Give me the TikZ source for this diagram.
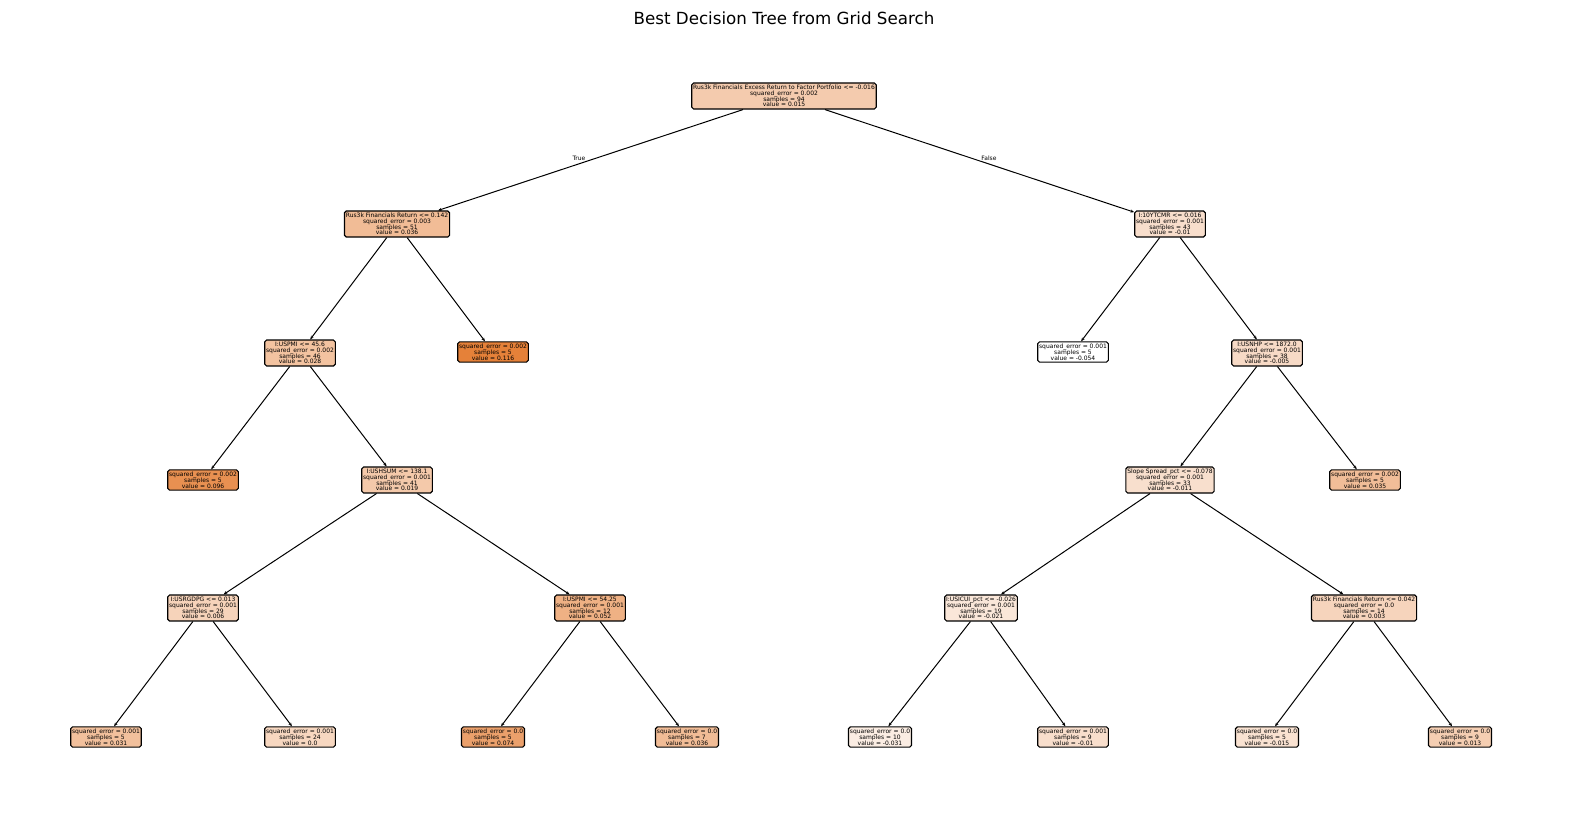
\documentclass[tikz,border=0pt]{standalone}
\usepackage{fontspec}
\setmainfont{DejaVu Sans}
\usetikzlibrary{arrows.meta}
\definecolor{treeorange}{RGB}{229,129,57}
\setlength{\lineskiplimit}{-5pt}

\begin{document}
\begin{tikzpicture}[x=1pt, y=-1pt,
  every node/.style={font=\fontsize{6}{5.8}\selectfont, align=center},
  split/.style={draw, line width=1.1pt, rounded corners=1.8pt, inner xsep=1.4pt, inner ysep=2pt, fill=treeorange!#1},
  edge/.style={-{Stealth[length=3.8pt, width=3pt]}, line width=1pt}]
\useasboundingbox (0,0) rectangle (1570,812);

\node[font=\fontsize{16.7}{19}\selectfont] (title) at (784,18) {Best Decision Tree from Grid Search};

\node[split=41] (root) at (784,96) {Rus3k Financials Excess Return to Factor Portfolio <= -0.016\\squared\_error = 0.002\\samples = 94\\value = 0.015};

\node[split=53] (a) at (397,224) {Rus3k Financials Return <= 0.142\\squared\_error = 0.003\\samples = 51\\value = 0.036};
\node[split=26] (b) at (1170,224) {I:10YTCMR <= 0.016\\squared\_error = 0.001\\samples = 43\\value = -0.01};

\node[split=48] (aa) at (300,353) {I:USPMI <= 45.6\\squared\_error = 0.002\\samples = 46\\value = 0.028};
\node[split=100] (ab) at (493,352) {squared\_error = 0.002\\samples = 5\\value = 0.116};
\node[split=0] (ba) at (1073,352) {squared\_error = 0.001\\samples = 5\\value = -0.054};
\node[split=29] (bb) at (1267,353) {I:USNHP <= 1872.0\\squared\_error = 0.001\\samples = 38\\value = -0.005};

\node[split=88] (aaa) at (203,480) {squared\_error = 0.002\\samples = 5\\value = 0.096};
\node[split=43] (aab) at (397,480) {I:USHSUM <= 138.1\\squared\_error = 0.001\\samples = 41\\value = 0.019};
\node[split=25] (bba) at (1170,480) {Slope Spread\_pct <= -0.078\\squared\_error = 0.001\\samples = 33\\value = -0.011};
\node[split=52] (bbb) at (1365,480) {squared\_error = 0.002\\samples = 5\\value = 0.035};

\node[split=35] (aaba) at (203,608) {I:USRGDPG <= 0.013\\squared\_error = 0.001\\samples = 29\\value = 0.006};
\node[split=62] (aabb) at (590,608) {I:USPMI <= 54.25\\squared\_error = 0.001\\samples = 12\\value = 0.052};
\node[split=19] (bbaa) at (981,608) {I:USICUI\_pct <= -0.026\\squared\_error = 0.001\\samples = 19\\value = -0.021};
\node[split=34] (bbab) at (1364,608) {Rus3k Financials Return <= 0.042\\squared\_error = 0.0\\samples = 14\\value = 0.003};

\node[split=50] (l1) at (106,737) {squared\_error = 0.001\\samples = 5\\value = 0.031};
\node[split=32] (l2) at (300,737) {squared\_error = 0.001\\samples = 24\\value = 0.0};
\node[split=75] (l3) at (493,737) {squared\_error = 0.0\\samples = 5\\value = 0.074};
\node[split=53] (l4) at (687,737) {squared\_error = 0.0\\samples = 7\\value = 0.036};
\node[split=14] (l5) at (880,737) {squared\_error = 0.0\\samples = 10\\value = -0.031};
\node[split=26] (l6) at (1073,737) {squared\_error = 0.001\\samples = 9\\value = -0.01};
\node[split=23] (l7) at (1267,737) {squared\_error = 0.0\\samples = 5\\value = -0.015};
\node[split=39] (l8) at (1460,737) {squared\_error = 0.0\\samples = 9\\value = 0.013};

\draw[edge] (root) -- (a);
\draw[edge] (root) -- (b);
\draw[edge] (a) -- (aa);
\draw[edge] (a) -- (ab);
\draw[edge] (b) -- (ba);
\draw[edge] (b) -- (bb);
\draw[edge] (aa) -- (aaa);
\draw[edge] (aa) -- (aab);
\draw[edge] (bb) -- (bba);
\draw[edge] (bb) -- (bbb);
\draw[edge] (aab) -- (aaba);
\draw[edge] (aab) -- (aabb);
\draw[edge] (bba) -- (bbaa);
\draw[edge] (bba) -- (bbab);
\draw[edge] (aaba) -- (l1);
\draw[edge] (aaba) -- (l2);
\draw[edge] (aabb) -- (l3);
\draw[edge] (aabb) -- (l4);
\draw[edge] (bbaa) -- (l5);
\draw[edge] (bbaa) -- (l6);
\draw[edge] (bbab) -- (l7);
\draw[edge] (bbab) -- (l8);

\node (true) at (579,158) {True};
\node (false) at (989,158) {False};
\end{tikzpicture}
\end{document}
